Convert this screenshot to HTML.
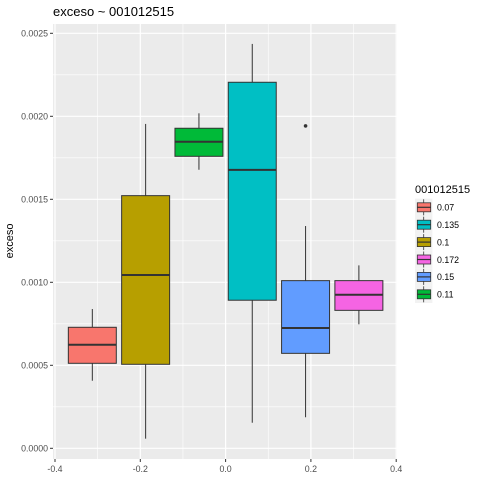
<!DOCTYPE html>
<html><head><meta charset="utf-8"><style>
body{margin:0;background:#fff;}
svg text{font-family:"Liberation Sans",Arial,sans-serif;}
</style></head><body>
<svg id="chart" width="480" height="480" xmlns="http://www.w3.org/2000/svg">
<rect width="480" height="480" fill="#fff"/>
<text x="53" y="16" font-size="13" fill="#000">exceso ~ 001012515</text>
<text transform="translate(13,241) rotate(-90)" text-anchor="middle" font-size="11" fill="#000">exceso</text>
<g id="plot"></g>
<g id="legend"></g>
</svg>
<script>
const groups=['0.07','0.1','0.11','0.135','0.15','0.172'];
const centers=[-0.3125,-0.1875,-0.0625,0.0625,0.1875,0.3125];
const lowers=[0.000407,0.000058,0.001678,0.000154,0.000187,0.000747];
const q1s=[0.000512,0.000506,0.001759,0.000892,0.000572,0.000831];
const medians=[0.000624,0.001044,0.001847,0.001677,0.000725,0.000925];
const q3s=[0.000729,0.001522,0.001928,0.002205,0.00101,0.00101];
const uppers=[0.000839,0.001954,0.002018,0.002436,0.001339,0.001102];
const outlierGroup=['0.15'];
const outlierValue=[0.001942];
const fills={'0.07':'#F8766D','0.1':'#B79F00','0.11':'#00BA38','0.135':'#00BFC4','0.15':'#619CFF','0.172':'#F564E3'};
const legendOrder=['0.07','0.135','0.1','0.172','0.15','0.11'];
const xTicks=[-0.4,-0.2,0.0,0.2,0.4];
const xTickLabels=['-0.4','-0.2','0.0','0.2','0.4'];
const yTicks=[0,0.0005,0.001,0.0015,0.002,0.0025];
const yTickLabels=['0.0000','0.0005','0.0010','0.0015','0.0020','0.0025'];
const boxWidth=0.1125;

const L=53,R=397,T=24,B=459;
const xs=v=>55+(v+0.4)*426.5;
const ys=v=>448.3-v*166000;
const NS='http://www.w3.org/2000/svg';
const plot=document.getElementById('plot');
function mk(tag,attrs,parent){const e=document.createElementNS(NS,tag);for(const k in attrs)e.setAttribute(k,attrs[k]);(parent||plot).appendChild(e);return e;}
let bg=mk('rect',{x:L,y:T,width:R-L,height:B-T,fill:'#EBEBEB'});


// minor grid
for(let i=0;i<xTicks.length-1;i++){const v=(xTicks[i]+xTicks[i+1])/2;mk('line',{x1:xs(v),x2:xs(v),y1:T,y2:B,stroke:'#fff','stroke-width':0.6});}
for(let i=0;i<yTicks.length-1;i++){const v=(yTicks[i]+yTicks[i+1])/2;mk('line',{x1:L,x2:R,y1:ys(v),y2:ys(v),stroke:'#fff','stroke-width':0.6});}
xTicks.forEach((v,i)=>{
  mk('line',{x1:xs(v),x2:xs(v),y1:T,y2:B,stroke:'#fff','stroke-width':1.2});
  mk('line',{x1:xs(v),x2:xs(v),y1:B,y2:B+3,stroke:'#333','stroke-width':1});
  const t=mk('text',{x:xs(v),y:B+13,'text-anchor':'middle','font-size':'8.8',fill:'#4D4D4D'});
  t.textContent=xTickLabels[i];
  
  
});
yTicks.forEach((v,i)=>{
  mk('line',{x1:L,x2:R,y1:ys(v),y2:ys(v),stroke:'#fff','stroke-width':1.2});
  mk('line',{x1:L-3,x2:L,y1:ys(v),y2:ys(v),stroke:'#333','stroke-width':1});
  const t=mk('text',{x:L-5,y:ys(v)+3,'text-anchor':'end','font-size':'8.8',fill:'#4D4D4D'});
  t.textContent=yTickLabels[i];
  
  
});
groups.forEach((g,i)=>{
  const grp=mk('g',{});
  
  
  const cx=xs(centers[i]),x0=xs(centers[i]-boxWidth/2),x1=xs(centers[i]+boxWidth/2);
  mk('line',{x1:cx,x2:cx,y1:ys(uppers[i]),y2:ys(q3s[i]),stroke:'#333','stroke-width':1},grp);
  mk('line',{x1:cx,x2:cx,y1:ys(q1s[i]),y2:ys(lowers[i]),stroke:'#333','stroke-width':1},grp);
  mk('rect',{x:x0,y:ys(q3s[i]),width:x1-x0,height:ys(q1s[i])-ys(q3s[i]),fill:fills[g],stroke:'#333','stroke-width':1},grp);
  mk('line',{x1:x0,x2:x1,y1:ys(medians[i]),y2:ys(medians[i]),stroke:'#333','stroke-width':2},grp);
});
outlierGroup.forEach((g,j)=>{
  const i=groups.indexOf(g);
  const c=mk('circle',{cx:xs(centers[i]),cy:ys(outlierValue[j]),r:1.8,fill:'#333'});
  
  
});
const lg=document.getElementById('legend');
const lt=mk('text',{x:415,y:193,'font-size':'11',fill:'#000'},lg);
lt.textContent='001012515';


legendOrder.forEach((g,k)=>{
  const cy=207.3+k*17.4;
  const e=mk('g',{},lg);
  
  
  mk('rect',{x:415,y:cy-8.7,width:17.4,height:17.4,fill:'#F2F2F2'},e);
  mk('line',{x1:423.7,x2:423.7,y1:cy-8,y2:cy+8,stroke:'#333','stroke-width':0.8},e);
  mk('rect',{x:417.3,y:cy-4.5,width:13.4,height:9,fill:fills[g],stroke:'#333','stroke-width':0.8},e);
  mk('line',{x1:417.3,x2:430.7,y1:cy,y2:cy,stroke:'#333','stroke-width':1.2},e);
  const t=mk('text',{x:437,y:cy+3.3,'font-size':'8.8',fill:'#000'},e);
  t.textContent=g;
});
</script>
</body></html>
